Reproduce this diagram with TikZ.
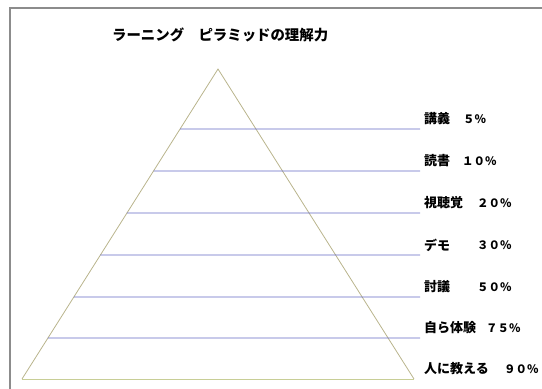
\documentclass[tikz,border=0pt]{standalone}
\usepackage{fontspec}
\newfontfamily\jpfont{Noto Sans CJK JP}
\usetikzlibrary{calc}

\definecolor{frameGray}{RGB}{140,140,140}
\definecolor{pyramidTan}{RGB}{185,180,140}
\definecolor{baseGreen}{RGB}{200,206,150}
\definecolor{levelBlue}{RGB}{100,105,195}

\begin{document}
\begin{tikzpicture}[x=1pt, y=-1pt,
    rowname/.style={anchor=west, inner sep=0pt, font=\jpfont\bfseries\fontsize{13}{13}\selectfont},
    rowpct/.style={anchor=west, inner sep=0pt, font=\jpfont\bfseries\fontsize{11.5}{12}\selectfont},
    titletext/.style={anchor=west, inner sep=0pt, font=\jpfont\bfseries\fontsize{14.4}{15}\selectfont}]

    \useasboundingbox (0,0) rectangle (542,389);

    % pyramid params
    \def\apexX{218}
    \def\apexY{69}
    \def\baseY{379}
    \def\halfBase{196}
    \def\lineEnd{420}

    % draw frame
    \draw[frameGray, line width=2pt] (10,400) -- (10,8) -- (560,8);

    % title
    \node[titletext] (title) at (112,35) {ラーニング　ピラミッドの理解力};

    % draw pyramid
    \coordinate (apex) at (\apexX,\apexY);
    \coordinate (baseL) at (\apexX-\halfBase,\baseY);
    \coordinate (baseR) at (\apexX+\halfBase,\baseY);

    \draw[pyramidTan, line width=0.8pt] (baseL) -- (apex) -- (baseR);
    \draw[baseGreen, line width=0.9pt] (baseL) -- (baseR);

    % draw levels
    \foreach \y [count=\i] in {129,171,213,255,297,338}{
        \coordinate (lvl-\i) at ($(apex)!{(\y-\apexY)/(\baseY-\apexY)}!(baseL)$);
        \draw[levelBlue, line width=0.9pt] (lvl-\i) -- (\lineEnd,\y);
    }

    % labels
    \foreach \y/\name/\pct/\px [count=\i] in {
        129/講義/５％/463,
        171/読書/１０％/462,
        213/視聴覚/２０％/477,
        255/デモ/３０％/477,
        297/討議/５０％/477,
        338/自ら体験/７５％/486,
        379/人に教える/９０％/504}{
        \node[rowname] (name-\i) at (424,\y-10) {\name};
        \node[rowpct] (pct-\i) at (\px,\y-10) {\pct};
    }

\end{tikzpicture}
\end{document}
